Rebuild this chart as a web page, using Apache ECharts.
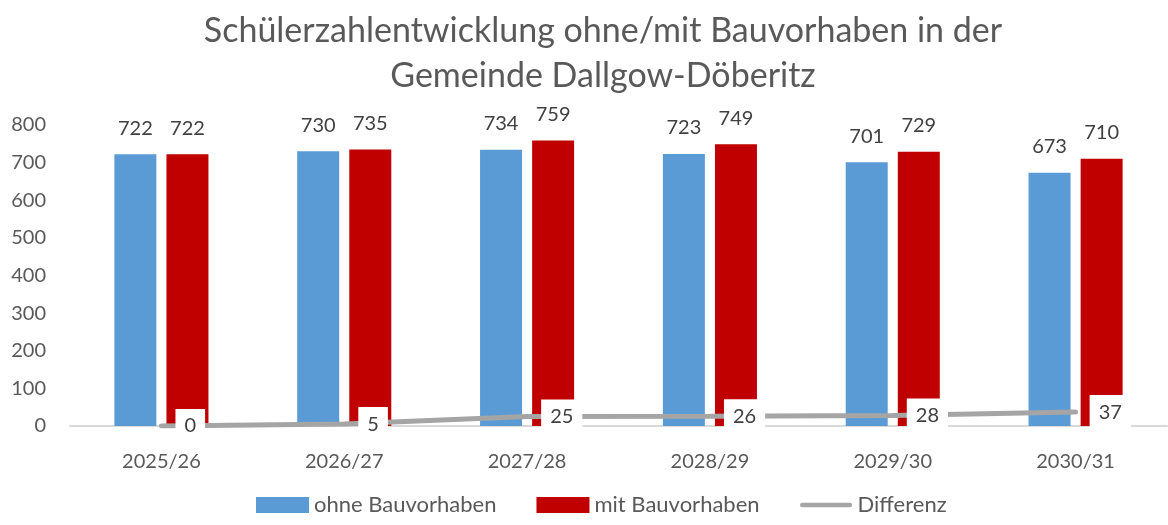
<!DOCTYPE html>
<html>
<head>
<meta charset="utf-8">
<script src="https://cdn.jsdelivr.net/npm/echarts@6/dist/echarts.min.js"></script>
<style>
  html, body { margin: 0; padding: 0; background: #fff; }
  #main { width: 1168px; height: 525px; }
</style>
</head>
<body>
<div id="main"></div>
<script>
// Daten
const years = ['2025/26', '2026/27', '2027/28', '2028/29', '2029/30', '2030/31']
const ohneBau = [722, 730, 734, 723, 701, 673]
const mitBau = [722, 735, 759, 749, 729, 710]
const differenz = [0, 5, 25, 26, 28, 37]

const FONT = 'Lato'
// dicke graue Linie als Legendensymbol
const lineIcon = 'path://M0,0 M56,16 M3,5.5 L53,5.5 A2.5,2.5 0 0 1 53,10.5 L3,10.5 A2.5,2.5 0 0 1 3,5.5 Z'

const chart = echarts.init(document.getElementById('main'))
const option = {
    textStyle: { fontFamily: FONT },
    title: {
        text: 'Schülerzahlentwicklung ohne/mit Bauvorhaben in der\nGemeinde Dallgow-Döberitz',
        left: 598,
        textAlign: 'center',
        top: 4,
        textStyle: {
            fontFamily: FONT,
            fontSize: 34,
            fontWeight: 'normal',
            color: '#595959',
            lineHeight: 45
        }
    },
    legend: {
        bottom: 4,
        left: 251,
        itemGap: 40,
        itemWidth: 53,
        itemHeight: 16,
        textStyle: { fontSize: 22, color: '#595959', fontFamily: FONT },
        data: [
            { name: 'ohne Bauvorhaben', icon: 'rect' },
            { name: 'mit Bauvorhaben', icon: 'rect' },
            { name: 'Differenz', icon: lineIcon, itemStyle: { color: '#a5a5a5' } }
        ]
    },
    grid: { left: 70, right: 1, top: 125, bottom: 99 },
    xAxis: {
        type: 'category',
        data: years,
        axisLine: { lineStyle: { color: '#d9d9d9', width: 2 } },
        axisTick: { show: false },
        axisLabel: { fontSize: 20, color: '#595959', margin: 26, fontFamily: FONT }
    },
    yAxis: {
        type: 'value',
        min: 0,
        max: 800,
        interval: 100,
        splitLine: { show: false },
        axisLabel: { fontSize: 20, color: '#595959', margin: 24, fontFamily: FONT }
    },
    series: [
        {
            name: 'ohne Bauvorhaben',
            type: 'bar',
            data: ohneBau,
            barWidth: 42,
            barGap: '24%',
            itemStyle: { color: '#5b9bd5' },
            label: { show: true, position: 'top', distance: 16, fontSize: 20, color: '#404040', fontFamily: FONT }
        },
        {
            name: 'mit Bauvorhaben',
            type: 'bar',
            data: mitBau,
            barWidth: 42,
            itemStyle: { color: '#c00000' },
            label: { show: true, position: 'top', distance: 16, fontSize: 20, color: '#404040', fontFamily: FONT }
        },
        {
            name: 'Differenz',
            type: 'line',
            data: differenz,
            symbol: 'circle',
            symbolSize: 0.1,
            showSymbol: true,
            z: 5,
            lineStyle: { color: '#a5a5a5', width: 5, cap: 'round' },
            itemStyle: { color: '#a5a5a5' },
            label: {
                show: true,
                position: 'right',
                distance: 14,
                fontSize: 20,
                color: '#404040',
                fontFamily: FONT,
                backgroundColor: '#ffffff',
                padding: [9, 9, 5, 9]
            },
            labelLayout: { hideOverlap: false }
        }
    ]
}
chart.setOption(option)
</script>
</body>
</html>
